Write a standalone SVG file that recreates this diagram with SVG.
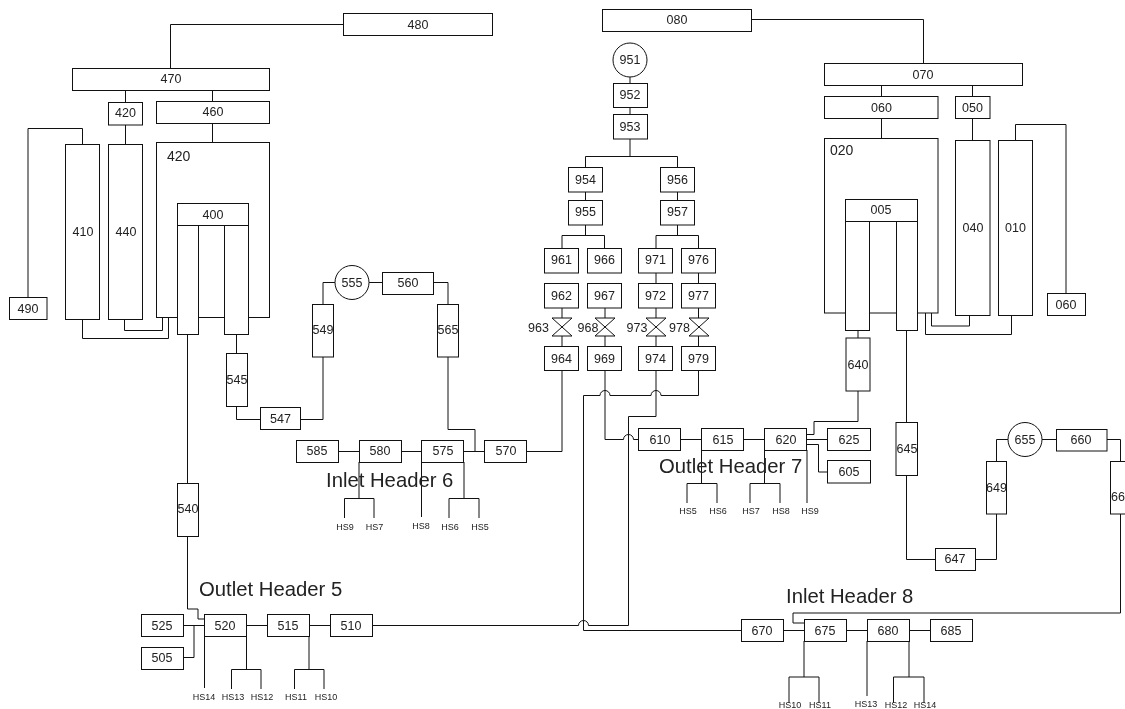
<svg xmlns="http://www.w3.org/2000/svg" width="1125" height="709" viewBox="0 0 1125 709">
<style>
.b{fill:#fff;stroke:#111;stroke-width:1}
#connectors path{fill:none;stroke:#111;stroke-width:1}
text{font-family:"Liberation Sans",Arial,sans-serif;fill:#222}
.n{font-size:12.5px;text-anchor:middle}
.s{font-size:9px;text-anchor:middle}
.h{font-size:20.300px}
.l{font-size:14px}
</style>
<defs><filter id="soft" x="0" y="0" width="100%" height="100%" color-interpolation-filters="sRGB"><feGaussianBlur stdDeviation="0.3"/></filter></defs>
<rect width="1125" height="709" fill="#fff"/>
<g id="diagram" filter="url(#soft)">
<rect width="1125" height="709" fill="#fff"/>
<g id="connectors">
<path d="M343 24.500H170.500V68M125.500 90V102M212.500 90V101M125.500 125V144M212.500 123V142M82.500 144V128.500H28V297M82.500 319V338.500H168.500V317M124.500 319V330.500H162.500V317"/>
<path d="M187.500 334V483M187.500 536V609H198V619H204M236.500 334V353M236.500 406V419.500H260M300 419.500H323V357M323 304V282.500H335M369 282.500H382M434 282.500H448V304M448 357V429.500H475V451.500"/>
<path d="M338 451.500H359M401 451.500H421M464 451.500H484M527 451.500H562V370.500"/>
<path d="M359 462V498.500M344.500 518V498.500H374V518M421.500 462V517M464 462V498.500M449 518V498.500H479V518"/>
<path d="M183 625.500H204M246 625.500H267M309 625.500H330M372 625.500H578.500A5 5 0 0 1 588.500 625.500H628.500V416.500H656V370.500"/>
<path d="M183 657.500H194V625.500M204.500 636V688M246.500 636V669.500M231.500 689V669.500H261V689M309 636V669.500M294.500 689V669.500H324V689"/>
<path d="M698.500 370.500V395.500H661A5 5 0 0 0 651 395.500H610A5 5 0 0 0 600 395.500H583.500V630.500H741M605 370.500V439.500H623.500A5 5 0 0 1 633.500 439.500H638.500"/>
<path d="M630 77V83M630 107V115M630 139V156.500M585.500 167.500V156.500H677.500V167.500M585.500 192V200M677.500 192V200M585.500 225V235.500M562 248V235.500H604.500V248M677.500 225V235.500M656 248V235.500H698.500V248M656 273V283.500M698.500 273V283.500M562 308V318M605 308V318M656 308V318M698.500 308V318M562 336V346.500M605 336V346.500M656 336V346.500M698.500 336V346.500"/>
<path d="M681 439.500H701.500M744 439.500H764.500M807 439.500H827.500M807 444.500H818.500V472H827.500M858 330V338M858 391V421.500H814V434.500H807"/>
<path d="M701.500 450V483.500M687 503V483.500H717V503M764.500 450V483.500M750 503V483.500H780V503M807 450V503"/>
<path d="M751 19.500H923.500V63M881.500 86V97M972.500 86V97M881.500 119V138M972.500 119V140M1015.500 140V124.500H1066V293M931.500 313V326H969.500V315M925.500 313V334.500H1011.500V315"/>
<path d="M906.500 330V423M906.500 476V559.500H935M975 559.500H996.500V514M996.500 462V439.500H1008M1042 439.500H1056M1107 439.500H1120.500V462M1120.500 514V613H793V623H804"/>
<path d="M783 630.500H804M846 630.500H867M909 630.500H930M804 641V677M789 703V677H819V703M867 641V696M909 641V677M893.500 703V677H924V703"/>
</g>
<g id="n480"><rect class="b" x="343.500" y="13.500" width="149" height="22"/><text class="n" x="418" y="29">480</text></g>
<g id="n470"><rect class="b" x="72.500" y="68.500" width="197" height="22"/><text class="n" x="171" y="83">470</text></g>
<g id="n420a"><rect class="b" x="108.500" y="102.500" width="34" height="22.500"/><text class="n" x="125.500" y="117">420</text></g>
<g id="n460"><rect class="b" x="156.500" y="101.500" width="113" height="22"/><text class="n" x="213" y="116">460</text></g>
<g id="n410"><rect class="b" x="65.500" y="144.500" width="34" height="175"/><text class="n" x="83" y="236">410</text></g>
<g id="n440"><rect class="b" x="108.500" y="144.500" width="34" height="175"/><text class="n" x="126" y="236">440</text></g>
<g id="n420b"><rect class="b" x="156.500" y="142.500" width="113" height="175"/><text class="l" x="167" y="161">420</text></g>
<g id="n400"><rect class="b" x="177.500" y="225.500" width="21" height="109"/><rect class="b" x="224.500" y="225.500" width="24" height="109"/><rect class="b" x="177.500" y="203.500" width="71" height="22"/><text class="n" x="213" y="219">400</text></g>
<g id="n490"><rect class="b" x="9.500" y="297.500" width="37.500" height="22"/><text class="n" x="28" y="313">490</text></g>
<g id="n545"><rect class="b" x="226.500" y="353.500" width="21" height="53"/><text class="n" x="237" y="384">545</text></g>
<g id="n547"><rect class="b" x="260.500" y="407.500" width="40" height="22"/><text class="n" x="280.500" y="423">547</text></g>
<g id="n549"><rect class="b" x="312.500" y="304.500" width="21" height="52.500"/><text class="n" x="323" y="334">549</text></g>
<g id="n555"><circle class="b" cx="352" cy="282.500" r="17"/><text class="n" x="352" y="286.500">555</text></g>
<g id="n560"><rect class="b" x="382.500" y="272.500" width="51" height="22"/><text class="n" x="408" y="286.500">560</text></g>
<g id="n565"><rect class="b" x="437.500" y="304.500" width="21" height="52.500"/><text class="n" x="448" y="334">565</text></g>
<g id="n540"><rect class="b" x="177.500" y="483.500" width="21" height="53"/><text class="n" x="188" y="513">540</text></g>
<g id="n585"><rect class="b" x="296.500" y="440.500" width="42" height="22"/><text class="n" x="317" y="455">585</text></g>
<g id="n580"><rect class="b" x="359.500" y="440.500" width="42" height="22"/><text class="n" x="380" y="455">580</text></g>
<g id="n575"><rect class="b" x="421.500" y="440.500" width="42" height="22"/><text class="n" x="443" y="455">575</text></g>
<g id="n570"><rect class="b" x="484.500" y="440.500" width="42" height="22"/><text class="n" x="506" y="455">570</text></g>
<g id="n525"><rect class="b" x="141.500" y="614.500" width="42" height="22"/><text class="n" x="162" y="630">525</text></g>
<g id="n505"><rect class="b" x="141.500" y="647.500" width="42" height="22"/><text class="n" x="162" y="662">505</text></g>
<g id="n520"><rect class="b" x="204.500" y="614.500" width="42" height="22"/><text class="n" x="225" y="630">520</text></g>
<g id="n515"><rect class="b" x="267.500" y="614.500" width="42" height="22"/><text class="n" x="288" y="630">515</text></g>
<g id="n510"><rect class="b" x="330.500" y="614.500" width="42" height="22"/><text class="n" x="351" y="630">510</text></g>
<g id="n080"><rect class="b" x="602.500" y="9.500" width="149" height="22"/><text class="n" x="677" y="24">080</text></g>
<g id="n951"><circle class="b" cx="630" cy="60" r="17"/><text class="n" x="630" y="64">951</text></g>
<g id="n952"><rect class="b" x="613.500" y="83.500" width="34" height="24"/><text class="n" x="630" y="99">952</text></g>
<g id="n953"><rect class="b" x="613.500" y="114.500" width="34" height="24.500"/><text class="n" x="630" y="131">953</text></g>
<g id="n954"><rect class="b" x="568.500" y="167.500" width="34" height="24.500"/><text class="n" x="585.500" y="184">954</text></g>
<g id="n955"><rect class="b" x="568.500" y="200.500" width="34" height="24.500"/><text class="n" x="585.500" y="216">955</text></g>
<g id="n956"><rect class="b" x="660.500" y="167.500" width="34" height="24.500"/><text class="n" x="677.500" y="184">956</text></g>
<g id="n957"><rect class="b" x="660.500" y="200.500" width="34" height="24.500"/><text class="n" x="677.500" y="216">957</text></g>
<g id="n961"><rect class="b" x="544.500" y="248.500" width="34" height="24.500"/><text class="n" x="561.500" y="264">961</text></g>
<g id="n966"><rect class="b" x="587.500" y="248.500" width="34" height="24.500"/><text class="n" x="604.500" y="264">966</text></g>
<g id="n971"><rect class="b" x="638.500" y="248.500" width="34" height="24.500"/><text class="n" x="655.500" y="264">971</text></g>
<g id="n976"><rect class="b" x="681.500" y="248.500" width="34" height="24.500"/><text class="n" x="698.500" y="264">976</text></g>
<g id="n962"><rect class="b" x="544.500" y="283.500" width="34" height="24.500"/><text class="n" x="561.500" y="300">962</text></g>
<g id="n967"><rect class="b" x="587.500" y="283.500" width="34" height="24.500"/><text class="n" x="604.500" y="300">967</text></g>
<g id="n972"><rect class="b" x="638.500" y="283.500" width="34" height="24.500"/><text class="n" x="655.500" y="300">972</text></g>
<g id="n977"><rect class="b" x="681.500" y="283.500" width="34" height="24.500"/><text class="n" x="698.500" y="300">977</text></g>
<g id="v963"><path class="b" d="M552 318H572L552 336H572Z"/><text class="n" x="538.500" y="331.500">963</text></g>
<g id="v968"><path class="b" d="M595 318H615L595 336H615Z"/><text class="n" x="588" y="331.500">968</text></g>
<g id="v973"><path class="b" d="M646 318H666L646 336H666Z"/><text class="n" x="637" y="331.500">973</text></g>
<g id="v978"><path class="b" d="M689 318H709L689 336H709Z"/><text class="n" x="679.500" y="331.500">978</text></g>
<g id="n964"><rect class="b" x="544.500" y="346.500" width="34" height="24"/><text class="n" x="561.500" y="363">964</text></g>
<g id="n969"><rect class="b" x="587.500" y="346.500" width="34" height="24"/><text class="n" x="604.500" y="363">969</text></g>
<g id="n974"><rect class="b" x="638.500" y="346.500" width="34" height="24"/><text class="n" x="655.500" y="363">974</text></g>
<g id="n979"><rect class="b" x="681.500" y="346.500" width="34" height="24"/><text class="n" x="698.500" y="363">979</text></g>
<g id="n610"><rect class="b" x="638.500" y="428.500" width="42" height="22"/><text class="n" x="660" y="443.500">610</text></g>
<g id="n615"><rect class="b" x="701.500" y="428.500" width="42" height="22"/><text class="n" x="723" y="443.500">615</text></g>
<g id="n620"><rect class="b" x="764.500" y="428.500" width="42" height="22"/><text class="n" x="786" y="443.500">620</text></g>
<g id="n625"><rect class="b" x="827.500" y="428.500" width="43" height="22"/><text class="n" x="849" y="443.500">625</text></g>
<g id="n605"><rect class="b" x="827.500" y="460.500" width="43" height="22.500"/><text class="n" x="849" y="476">605</text></g>
<g id="n070"><rect class="b" x="824.500" y="63.500" width="198" height="22"/><text class="n" x="923" y="79">070</text></g>
<g id="n060a"><rect class="b" x="824.500" y="96.500" width="113.500" height="22"/><text class="n" x="881.500" y="111.500">060</text></g>
<g id="n050"><rect class="b" x="955.500" y="96.500" width="34.500" height="22"/><text class="n" x="972.500" y="111.500">050</text></g>
<g id="n020"><rect class="b" x="824.500" y="138.500" width="113.500" height="174.500"/><text class="l" x="830" y="155">020</text></g>
<g id="n005"><rect class="b" x="845.500" y="221.500" width="24" height="109"/><rect class="b" x="896.500" y="221.500" width="21" height="109"/><rect class="b" x="845.500" y="199.500" width="72" height="22"/><text class="n" x="881" y="214">005</text></g>
<g id="n040"><rect class="b" x="955.500" y="140.500" width="34.500" height="175"/><text class="n" x="973" y="232">040</text></g>
<g id="n010"><rect class="b" x="998.500" y="140.500" width="34" height="175"/><text class="n" x="1015.500" y="232">010</text></g>
<g id="n060b"><rect class="b" x="1047.500" y="293.500" width="38" height="22"/><text class="n" x="1066" y="309">060</text></g>
<g id="n640"><rect class="b" x="846" y="338" width="24" height="53"/><text class="n" x="858" y="369">640</text></g>
<g id="n645"><rect class="b" x="896" y="422.500" width="21.500" height="53"/><text class="n" x="907" y="453">645</text></g>
<g id="n647"><rect class="b" x="935.500" y="548.500" width="40" height="22"/><text class="n" x="955" y="563">647</text></g>
<g id="n649"><rect class="b" x="986.500" y="461.500" width="20" height="52.500"/><text class="n" x="996.500" y="492">649</text></g>
<g id="n655"><circle class="b" cx="1025" cy="439.500" r="17"/><text class="n" x="1025" y="444">655</text></g>
<g id="n660"><rect class="b" x="1056.500" y="429.500" width="50.500" height="21.500"/><text class="n" x="1081" y="444">660</text></g>
<g id="n66"><rect class="b" x="1110.500" y="461.500" width="21" height="52.500"/><text style="font-size:12.500px" x="1111" y="501">66</text></g>
<g id="n670"><rect class="b" x="741.500" y="619.500" width="42" height="22"/><text class="n" x="762" y="634.500">670</text></g>
<g id="n675"><rect class="b" x="804.500" y="619.500" width="42" height="22"/><text class="n" x="825" y="634.500">675</text></g>
<g id="n680"><rect class="b" x="867.500" y="619.500" width="42" height="22"/><text class="n" x="888" y="634.500">680</text></g>
<g id="n685"><rect class="b" x="930.500" y="619.500" width="42" height="22"/><text class="n" x="951" y="634.500">685</text></g>
<g id="labels">
<text class="h" x="326" y="487">Inlet Header 6</text>
<text class="h" x="659" y="473">Outlet Header 7</text>
<text class="h" x="199" y="596">Outlet Header 5</text>
<text class="h" x="786" y="603">Inlet Header 8</text>
<text class="s" x="345" y="530">HS9</text><text class="s" x="374.500" y="530">HS7</text><text class="s" x="421" y="529">HS8</text><text class="s" x="450" y="530">HS6</text><text class="s" x="480" y="530">HS5</text>
<text class="s" x="688" y="514">HS5</text><text class="s" x="718" y="514">HS6</text><text class="s" x="751" y="514">HS7</text><text class="s" x="781" y="514">HS8</text><text class="s" x="810" y="514">HS9</text>
<text class="s" x="204" y="700">HS14</text><text class="s" x="233" y="700">HS13</text><text class="s" x="262" y="700">HS12</text><text class="s" x="296" y="700">HS11</text><text class="s" x="326" y="700">HS10</text>
<text class="s" x="790" y="708">HS10</text><text class="s" x="820" y="708">HS11</text><text class="s" x="866" y="707">HS13</text><text class="s" x="896" y="708">HS12</text><text class="s" x="925" y="708">HS14</text>
</g>
</g>
</svg>
